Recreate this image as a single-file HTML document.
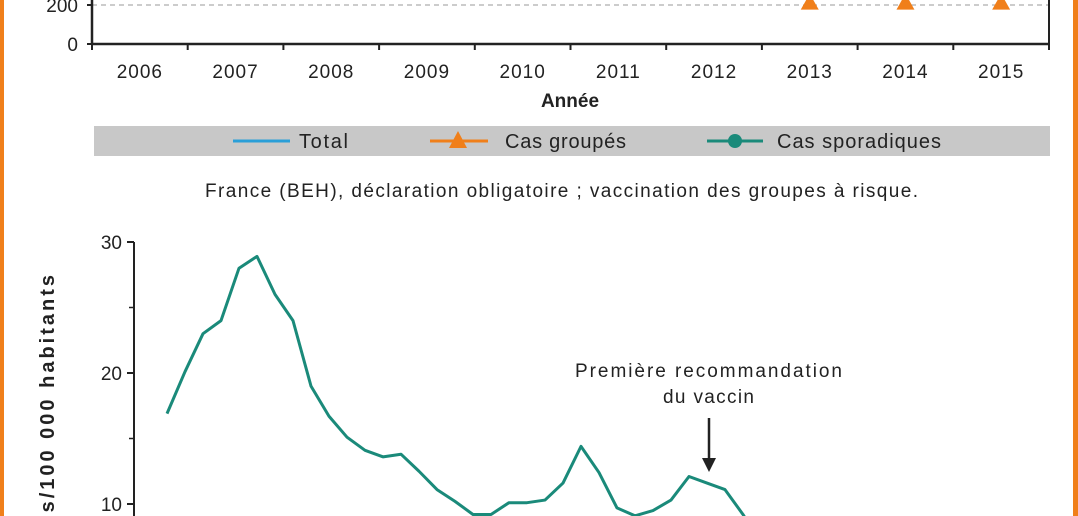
<!DOCTYPE html>
<html><head><meta charset="utf-8"><style>
html,body{margin:0;padding:0;background:#fff;overflow:hidden;}
svg{display:block;font-family:"Liberation Sans","DejaVu Sans",sans-serif;}
</style></head><body>
<svg width="1078" height="516" viewBox="0 0 1078 516">
<rect x="0" y="0" width="4" height="516" fill="#f07f1a"/>
<rect x="1073" y="0" width="5" height="516" fill="#f07f1a"/>
<g id="topChart"></g>
<g>
<rect x="94" y="126" width="956" height="30" fill="#c8c8c8"/>
<g><line x1="233" y1="141" x2="290" y2="141" stroke="#2a9fd8" stroke-width="3"/><text x="299" y="148" font-size="20" fill="#222" textLength="49" lengthAdjust="spacing">Total</text></g>
<g><line x1="430" y1="141" x2="488" y2="141" stroke="#f07f1a" stroke-width="3"/><polygon points="458,131 467,148 449,148" fill="#f07f1a"/><text x="505" y="148" font-size="20" fill="#222" textLength="121" lengthAdjust="spacing">Cas groupés</text></g>
<g><line x1="707" y1="141" x2="763" y2="141" stroke="#1a8a7a" stroke-width="3"/><circle cx="735" cy="141" r="7" fill="#1a8a7a"/><text x="777" y="148" font-size="20" fill="#222" textLength="164" lengthAdjust="spacing">Cas sporadiques</text></g>
</g>
<text x="205" y="197" font-size="19" fill="#222" textLength="713" lengthAdjust="spacing">France (BEH), déclaration obligatoire ; vaccination des groupes à risque.</text>
<g id="bottomChart"></g>
<text transform="translate(54,272) rotate(-90)" font-size="20" font-weight="bold" text-anchor="end" letter-spacing="3" fill="#222">Cas rapportés/100 000 habitants</text>
<text x="575" y="377" font-size="19" fill="#222" textLength="267" lengthAdjust="spacing">Première recommandation</text>
<text x="663" y="403" font-size="19" fill="#222" textLength="91" lengthAdjust="spacing">du vaccin</text>
<g><line x1="709" y1="418" x2="709" y2="462" stroke="#222" stroke-width="2.5"/><polygon points="702,458 716,458 709,472" fill="#222"/></g>
</svg>
<script>
// Top chart data
const topYears = ["2006","2007","2008","2009","2010","2011","2012","2013","2014","2015"];
const topYTicks = [0, 200];
const groupedYears = [7, 8, 9];
const groupedValues = [212, 212, 212];
// Bottom chart data
const botYTicks = [10, 20, 30];
const botMinorTicks = [15, 25];
const incidence = [16.9,20.1,23,24,28,28.9,26,24,19,16.7,15.1,14.1,13.6,13.8,12.5,11.1,10.2,9.2,9.2,10.1,10.1,10.3,11.6,14.4,12.4,9.7,9.1,9.5,10.3,12.1,11.6,11.1,9.2,7];

const NS = "http://www.w3.org/2000/svg";
function mk(tag, attrs, parent){const e=document.createElementNS(NS,tag);for(const k in attrs)e.setAttribute(k,attrs[k]);parent.appendChild(e);return e;}

// Top chart
const topG = document.getElementById('topChart');
const tx0=92, tx1=1049, ty0=44;
const tBand=(tx1-tx0)/topYears.length;
const tY=v=>ty0 - v*(39/200);
const tX=i=>tx0+tBand*(i+0.5);
topYTicks.forEach(v=>{
  if(v>0){const g=mk('line',{x1:tx0,x2:tx1,y1:tY(v),y2:tY(v),stroke:'#999','stroke-width':1,'stroke-dasharray':'5,4'},topG);
  
  }
  const t=mk('text',{x:78,y:tY(v)+7,'font-size':19,'text-anchor':'end',fill:'#222'},topG);t.textContent=v;
  
  
  mk('line',{x1:tx0-5,x2:tx0,y1:tY(v),y2:tY(v),stroke:'#222','stroke-width':2},topG);
});
let ax=mk('line',{x1:tx0,x2:tx0,y1:0,y2:ty0,stroke:'#222','stroke-width':2.5},topG);


ax=mk('line',{x1:tx1,x2:tx1,y1:0,y2:ty0,stroke:'#222','stroke-width':2},topG);


ax=mk('line',{x1:tx0,x2:tx1,y1:ty0,y2:ty0,stroke:'#222','stroke-width':2.5},topG);


for(let i=0;i<=topYears.length;i++){mk('line',{x1:tx0+tBand*i,x2:tx0+tBand*i,y1:ty0,y2:ty0+6,stroke:'#222','stroke-width':2},topG);}
topYears.forEach((y,i)=>{const t=mk('text',{x:tX(i),y:78,'font-size':19,'text-anchor':'middle','letter-spacing':1,fill:'#222'},topG);t.textContent=y;
  
  });
const at=mk('text',{x:570,y:107,'font-size':19,'font-weight':'bold','text-anchor':'middle',fill:'#222'},topG);at.textContent='Année';


groupedYears.forEach((yi,k)=>{const cx=tX(yi),cy=tY(groupedValues[k]);
  const p=mk('polygon',{points:`${cx},${cy-9} ${cx+9},${cy+7} ${cx-9},${cy+7}`,fill:'#f07f1a'},topG);
  
  });

// Bottom chart
const botG=document.getElementById('bottomChart');
const bx0=134, bStart=167, bStep=18;
const bY=v=>504-(v-10)*13.1;
const bX=i=>bStart+i*bStep;
ax=mk('line',{x1:bx0,x2:bx0,y1:bY(30),y2:516,stroke:'#222','stroke-width':2},botG);


botYTicks.forEach(v=>{mk('line',{x1:bx0-7,x2:bx0,y1:bY(v),y2:bY(v),stroke:'#222','stroke-width':2},botG);
  const t=mk('text',{x:122,y:bY(v)+7,'font-size':19,'text-anchor':'end',fill:'#222'},botG);t.textContent=v;
  
  });
botMinorTicks.forEach(v=>{mk('line',{x1:bx0-5,x2:bx0,y1:bY(v),y2:bY(v),stroke:'#222','stroke-width':1.5},botG);});
const pl=mk('polyline',{points:incidence.map((v,i)=>bX(i)+','+bY(v)).join(' '),fill:'none',stroke:'#1a8a7a','stroke-width':3,'stroke-linejoin':'round'},botG);


</script>
</body></html>
